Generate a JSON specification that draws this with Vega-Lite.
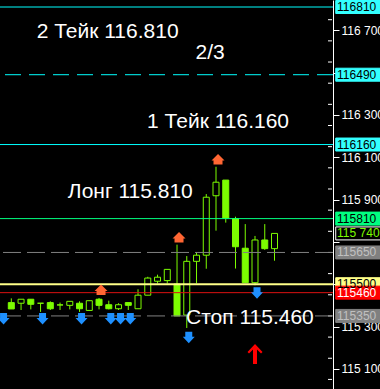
{
  "$schema": "https://vega.github.io/schema/vega-lite/v6.json",
  "width": 333,
  "height": 389,
  "autosize": {"type": "none"},
  "padding": {"left": 0, "top": 0, "right": 47, "bottom": 0},
  "background": "black",
  "config": {"view": {"stroke": null}, "axisX": {"disable": true}},
  "datasets": {
    "candles": [
      {"i": 0, "open": 115.413, "close": 115.383, "high": 115.433, "low": 115.383},
      {"i": 1, "open": 115.410, "close": 115.429, "high": 115.429, "low": 115.378},
      {"i": 2, "open": 115.429, "close": 115.405, "high": 115.429, "low": 115.381},
      {"i": 3, "open": 115.410, "close": 115.410, "high": 115.410, "low": 115.369},
      {"i": 4, "open": 115.413, "close": 115.384, "high": 115.419, "low": 115.378},
      {"i": 5, "open": 115.402, "close": 115.402, "high": 115.413, "low": 115.378},
      {"i": 6, "open": 115.400, "close": 115.419, "high": 115.419, "low": 115.381},
      {"i": 7, "open": 115.410, "close": 115.384, "high": 115.419, "low": 115.369},
      {"i": 8, "open": 115.376, "close": 115.422, "high": 115.422, "low": 115.376},
      {"i": 9, "open": 115.429, "close": 115.400, "high": 115.435, "low": 115.381},
      {"i": 10, "open": 115.403, "close": 115.384, "high": 115.422, "low": 115.381},
      {"i": 11, "open": 115.384, "close": 115.403, "high": 115.410, "low": 115.378},
      {"i": 12, "open": 115.413, "close": 115.400, "high": 115.413, "low": 115.378},
      {"i": 13, "open": 115.384, "close": 115.448, "high": 115.476, "low": 115.384},
      {"i": 14, "open": 115.448, "close": 115.529, "high": 115.535, "low": 115.448},
      {"i": 15, "open": 115.514, "close": 115.533, "high": 115.545, "low": 115.504},
      {"i": 16, "open": 115.517, "close": 115.570, "high": 115.570, "low": 115.504},
      {"i": 17, "open": 115.501, "close": 115.350, "high": 115.687, "low": 115.350},
      {"i": 18, "open": 115.354, "close": 115.608, "high": 115.633, "low": 115.293},
      {"i": 19, "open": 115.608, "close": 115.637, "high": 115.652, "low": 115.504},
      {"i": 20, "open": 115.637, "close": 115.911, "high": 115.926, "low": 115.573},
      {"i": 21, "open": 115.918, "close": 115.982, "high": 116.055, "low": 115.753},
      {"i": 22, "open": 115.992, "close": 115.813, "high": 115.992, "low": 115.791},
      {"i": 23, "open": 115.810, "close": 115.677, "high": 115.819, "low": 115.574},
      {"i": 24, "open": 115.670, "close": 115.507, "high": 115.784, "low": 115.507},
      {"i": 25, "open": 115.507, "close": 115.709, "high": 115.728, "low": 115.495},
      {"i": 26, "open": 115.709, "close": 115.668, "high": 115.784, "low": 115.662},
      {"i": 27, "open": 115.668, "close": 115.740, "high": 115.740, "low": 115.611}
    ],
    "levels": [
      {"price": 116.810, "label": "116810", "kind": "tp"},
      {"price": 116.490, "label": "116490", "kind": "tp2"},
      {"price": 116.160, "label": "116160", "kind": "tp"},
      {"price": 115.810, "label": "115810", "kind": "entry"},
      {"price": 115.740, "label": "115 740", "kind": "bid"},
      {"price": 115.650, "label": "115650", "kind": "level"},
      {"price": 115.500, "label": "115500", "kind": "open"},
      {"price": 115.460, "label": "115460", "kind": "sl"},
      {"price": 115.350, "label": "115350", "kind": "level"}
    ],
    "minorTicks": [
      {"price": 115.05}, {"price": 115.15}, {"price": 115.25}, {"price": 115.35}, {"price": 115.45},
      {"price": 115.55}, {"price": 115.65}, {"price": 115.75}, {"price": 115.85}, {"price": 115.95},
      {"price": 116.05}, {"price": 116.15}, {"price": 116.25}, {"price": 116.35}, {"price": 116.45},
      {"price": 116.55}, {"price": 116.65}, {"price": 116.75}
    ],
    "notes": [
      {"label": "2 Тейк 116.810", "i": 2.6, "price": 116.690},
      {"label": "2/3", "i": 18.9, "price": 116.592},
      {"label": "1 Тейк 116.160", "i": 13.93, "price": 116.265},
      {"label": "Лонг 115.810", "i": 5.8, "price": 115.934},
      {"label": "Стоп 115.460", "i": 17.92, "price": 115.342}
    ],
    "arrows": [
      {"i": -1, "price": 115.3355, "type": "down"},
      {"i": 3, "price": 115.3355, "type": "down"},
      {"i": 7, "price": 115.3355, "type": "down"},
      {"i": 10, "price": 115.3355, "type": "down"},
      {"i": 11, "price": 115.3355, "type": "down"},
      {"i": 12, "price": 115.3355, "type": "down"},
      {"i": 18, "price": 115.247, "type": "down"},
      {"i": 25, "price": 115.457, "type": "down"},
      {"i": 9, "price": 115.472, "type": "up"},
      {"i": 17, "price": 115.721, "type": "up"},
      {"i": 21, "price": 116.089, "type": "up"},
      {"i": 25, "price": 115.170, "type": "signal"}
    ]
  },
  "layer": [
    {
      "data": {"name": "candles"},
      "mark": {"type": "rule", "color": "#7cfc00", "strokeWidth": 1},
      "encoding": {
        "x": {"field": "i", "type": "quantitative", "scale": {"domain": [-0.6468, 32.488], "zero": false, "nice": false}},
        "y": {
          "field": "low", "type": "quantitative",
          "scale": {"domain": [115.0047, 116.8431], "zero": false, "nice": false},
          "axis": {
            "orient": "right", "title": null, "grid": false,
            "values": [115.0, 115.1, 115.2, 115.3, 115.4, 115.6, 116.0, 115.9, 116.1, 116.2, 116.3, 116.4, 116.6, 116.7, 115.5, 115.7, 115.8, 116.5, 116.8],
            "domainColor": "white", "domainWidth": 1,
            "tickColor": "white", "tickWidth": 1, "tickSize": 6,
            "labelExpr": "indexof([115500, 115700, 115800, 116500, 116800], round(datum.value*1000)) >= 0 ? '' : replace(format(datum.value, '.3f'), '.', ' ')",
            "labelColor": "white", "labelFont": "Liberation Sans", "labelFontSize": 12,
            "labelPadding": 2, "labelOverlap": false, "labelFlush": false, "labelBound": false
          }
        },
        "y2": {"field": "high"}
      }
    },
    {
      "data": {"name": "candles"},
      "mark": {"type": "bar", "width": 6, "stroke": "#7cfc00", "strokeWidth": 1},
      "encoding": {
        "x": {"field": "i", "type": "quantitative"},
        "y": {"field": "open", "type": "quantitative"},
        "y2": {"field": "close"},
        "fill": {"condition": {"test": "datum.close > datum.open", "value": "black"}, "value": "#7cfc00"}
      }
    },
    {
      "data": {"name": "minorTicks"},
      "mark": {"type": "point", "shape": "M0,-0.5 L4,-0.5 L4,0.5 L0,0.5 Z", "size": 4, "filled": true, "color": "white", "opacity": 1, "clip": false},
      "encoding": {
        "x": {"datum": 32.488},
        "y": {"field": "price", "type": "quantitative"}
      }
    },
    {
      "data": {"name": "levels"},
      "transform": [{"filter": "datum.kind == 'tp'"}],
      "mark": {"type": "rule", "color": "#00ffff", "strokeWidth": 1},
      "encoding": {"y": {"field": "price", "type": "quantitative"}}
    },
    {
      "data": {"name": "levels"},
      "transform": [{"filter": "datum.kind == 'tp2'"}],
      "mark": {"type": "rule", "color": "#00ffff", "strokeWidth": 1, "strokeDash": [16, 8]},
      "encoding": {"y": {"field": "price", "type": "quantitative"}}
    },
    {
      "data": {"name": "levels"},
      "transform": [{"filter": "datum.kind == 'entry'"}],
      "mark": {"type": "rule", "color": "#00ff80", "strokeWidth": 1},
      "encoding": {"y": {"field": "price", "type": "quantitative"}}
    },
    {
      "data": {"name": "levels"},
      "transform": [{"filter": "datum.kind == 'level'"}],
      "mark": {"type": "rule", "color": "#808080", "strokeWidth": 1, "strokeDash": [18, 6]},
      "encoding": {"y": {"field": "price", "type": "quantitative"}}
    },
    {
      "data": {"name": "levels"},
      "transform": [{"filter": "datum.kind == 'open'"}],
      "mark": {"type": "rule", "color": "#ffff88", "strokeWidth": 2},
      "encoding": {"y": {"field": "price", "type": "quantitative"}}
    },
    {
      "data": {"name": "levels"},
      "transform": [{"filter": "datum.kind == 'sl'"}],
      "mark": {"type": "rule", "color": "#dd1111", "strokeWidth": 1},
      "encoding": {"y": {"field": "price", "type": "quantitative"}}
    },
    {
      "data": {"name": "arrows"},
      "transform": [{"filter": "datum.type == 'down'"}],
      "mark": {"type": "point", "shape": "M-3.5,-6 L3.5,-6 L3.5,-1 L6,-1 L0,5.5 L-6,-1 L-3.5,-1 Z", "size": 4, "filled": true, "color": "#1e90ff", "opacity": 1, "xOffset": 2},
      "encoding": {
        "x": {"field": "i", "type": "quantitative"},
        "y": {"field": "price", "type": "quantitative"}
      }
    },
    {
      "data": {"name": "arrows"},
      "transform": [{"filter": "datum.type == 'up'"}],
      "mark": {"type": "point", "shape": "M0,-5.5 L6.5,1 L4.5,1 L4.5,5 L-4.5,5 L-4.5,1 L-6.5,1 Z", "size": 4, "filled": true, "color": "#ff6633", "opacity": 1, "xOffset": 2},
      "encoding": {
        "x": {"field": "i", "type": "quantitative"},
        "y": {"field": "price", "type": "quantitative"}
      }
    },
    {
      "data": {"name": "arrows"},
      "transform": [{"filter": "datum.type == 'signal'"}],
      "mark": {"type": "point", "shape": "M0,-10 L7.5,-2 L6,-0.5 L2,-4.5 L2,10 L-2,10 L-2,-4.5 L-6,-0.5 L-7.5,-2 Z", "size": 4, "filled": true, "color": "#ff0000", "opacity": 1},
      "encoding": {
        "x": {"field": "i", "type": "quantitative"},
        "y": {"field": "price", "type": "quantitative"}
      }
    },
    {
      "data": {"name": "notes"},
      "mark": {"type": "text", "align": "left", "baseline": "middle", "font": "Liberation Sans", "fontSize": 21, "color": "white"},
      "encoding": {
        "x": {"field": "i", "type": "quantitative"},
        "y": {"field": "price", "type": "quantitative"},
        "text": {"field": "label"}
      }
    },
    {
      "data": {"name": "levels"},
      "mark": {"type": "point", "shape": "M0,-6.5 L48,-6.5 L48,6.5 L0,6.5 Z", "size": 4, "filled": true, "opacity": 1, "strokeWidth": 1, "clip": false},
      "encoding": {
        "x": {"datum": 33.28},
        "y": {"field": "price", "type": "quantitative"},
        "fill": {"field": "kind", "type": "nominal", "legend": null, "scale": {"domain": ["tp", "tp2", "entry", "bid", "level", "open", "sl"], "range": ["#33ffff", "#33ffff", "#00ff80", "#000000", "#808080", "#ffff88", "#ff0000"]}},
        "stroke": {"field": "kind", "type": "nominal", "legend": null, "scale": {"domain": ["tp", "tp2", "entry", "bid", "level", "open", "sl"], "range": ["#33ffff", "#33ffff", "#00ff80", "#ffffff", "#808080", "#ffff88", "#ff0000"]}}
      }
    },
    {
      "data": {"name": "levels"},
      "mark": {"type": "text", "align": "left", "baseline": "middle", "font": "Liberation Sans", "fontSize": 12, "clip": false},
      "encoding": {
        "x": {"datum": 33.42},
        "y": {"field": "price", "type": "quantitative"},
        "text": {"field": "label"},
        "color": {"field": "kind", "type": "nominal", "legend": null, "scale": {"domain": ["tp", "tp2", "entry", "bid", "level", "open", "sl"], "range": ["#000000", "#000000", "#000000", "#7cfc00", "#c0c0c0", "#000000", "#ffffff"]}}
      }
    }
  ]
}
